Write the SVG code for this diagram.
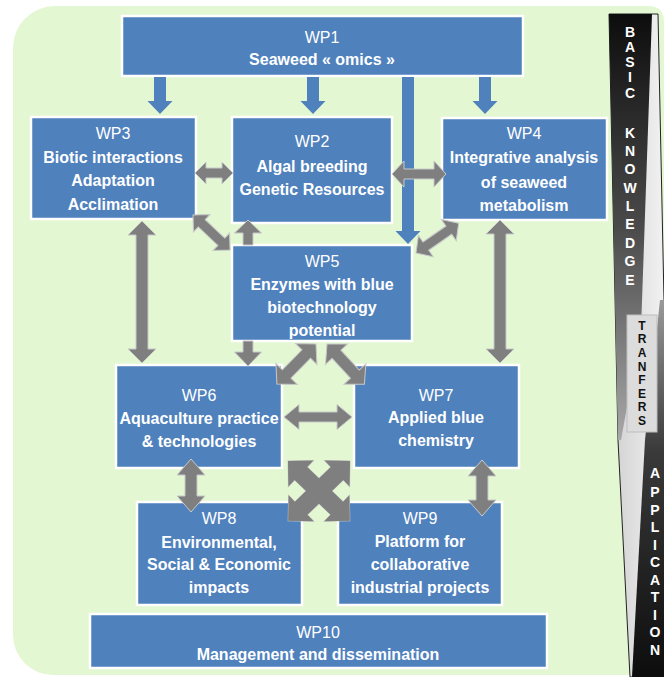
<svg xmlns="http://www.w3.org/2000/svg" width="664" height="677" viewBox="0 0 664 677">
<defs>
<style>
.box{fill:#4f81bd;stroke:#ffffff;stroke-width:2.5}
.t{font-family:"Liberation Sans",Arial,sans-serif;font-size:16px;fill:#ffffff;text-anchor:middle}
.b{font-weight:bold}
.ga{fill:#7f7f7f;stroke:#c9c9c9;stroke-width:1}
.gf{fill:#7f7f7f;stroke:none}
.ba{fill:#4f81bd}
.lw{font-family:"Liberation Sans",Arial,sans-serif;font-size:14px;font-weight:bold;fill:#ffffff;text-anchor:middle}
.lk{font-family:"Liberation Sans",Arial,sans-serif;font-size:12px;font-weight:bold;fill:#111111;text-anchor:middle}
</style>
<linearGradient id="gTop" x1="0" y1="0" x2="0" y2="1">
<stop offset="0" stop-color="#0d0d0d"/>
<stop offset="0.5" stop-color="#4a4a4a"/>
<stop offset="1" stop-color="#a8a8a8"/>
</linearGradient>
<linearGradient id="gBot" x1="0" y1="0" x2="0" y2="1">
<stop offset="0" stop-color="#9a9a9a"/>
<stop offset="0.4" stop-color="#3a3a3a"/>
<stop offset="1" stop-color="#0d0d0d"/>
</linearGradient>
<linearGradient id="gLight" x1="0" y1="0" x2="1" y2="0">
<stop offset="0" stop-color="#cfcfcf"/>
<stop offset="1" stop-color="#f2f2f2"/>
</linearGradient>
<path id="xarm" d="M0 0 L18 -18 L18 -9 L68 -9 L68 -18 L86 0 L68 18 L68 9 L18 9 L18 18 Z"/>
</defs>
<rect width="664" height="677" fill="#ffffff"/>
<path d="M55 6 H648 Q664 6 664 22 V675 H53 A40 40 0 0 1 13 635 V48 A42 42 0 0 1 55 6 Z" fill="#e3f7d3"/>

<g id="sidebar">
<polygon points="609,14 658,14 664,300 664,677 630,677 618,440" fill="url(#gLight)" stroke="#222" stroke-width="1"/>
<polygon points="609,14 652,14 641,330 621,440 618,440" fill="url(#gTop)"/>
<polygon points="660,300 664,300 664,677 632,677 645,440" fill="url(#gBot)"/>
<rect x="627" y="315" width="30" height="117" fill="#dcdcdc" stroke="#bdbdbd" stroke-width="1"/>
<g class="lw">
<text x="630" y="37">B</text><text x="630" y="52">A</text><text x="630" y="67">S</text><text x="630" y="82">I</text><text x="630" y="98">C</text>
<text x="630" y="138">K</text><text x="630" y="156">N</text><text x="630" y="174">O</text><text x="630" y="193">W</text><text x="630" y="211">L</text><text x="630" y="229">E</text><text x="630" y="248">D</text><text x="630" y="266">G</text><text x="630" y="285">E</text>
</g>
<g class="lk">
<text x="642" y="330">T</text><text x="642" y="343">R</text><text x="642" y="357">A</text><text x="642" y="371">N</text><text x="642" y="384">F</text><text x="642" y="398">E</text><text x="642" y="411">R</text><text x="642" y="425">S</text>
</g>
<g class="lw">
<text x="655" y="478">A</text><text x="655" y="497">P</text><text x="655" y="515">P</text><text x="655" y="532">L</text><text x="655" y="550">I</text><text x="655" y="567">C</text><text x="655" y="585">A</text><text x="655" y="602">T</text><text x="655" y="620">I</text><text x="655" y="637">O</text><text x="655" y="655">N</text>
</g>
</g>

<g id="wp1"><rect class="box" x="122" y="16" width="401" height="60"/>
<text class="t" x="322" y="43">WP1</text><text class="t b" x="322" y="65">Seaweed « omics »</text></g>
<g id="wp3"><rect class="box" x="31" y="117" width="165" height="102"/>
<text class="t" x="113" y="139">WP3</text><text class="t b" x="113" y="163">Biotic interactions</text><text class="t b" x="113" y="186">Adaptation</text><text class="t b" x="113" y="210">Acclimation</text></g>
<g id="wp2"><rect class="box" x="232" y="117" width="160" height="106"/>
<text class="t" x="312" y="147">WP2</text><text class="t b" x="312" y="172">Algal breeding</text><text class="t b" x="312" y="195">Genetic Resources</text></g>
<g id="wp4"><rect class="box" x="442" y="118" width="165" height="102"/>
<text class="t" x="524" y="139">WP4</text><text class="t b" x="524" y="163">Integrative analysis</text><text class="t b" x="524" y="188">of seaweed</text><text class="t b" x="524" y="211">metabolism</text></g>
<g id="wp5"><rect class="box" x="232" y="245" width="180" height="96"/>
<text class="t" x="322" y="267">WP5</text><text class="t b" x="322" y="290">Enzymes with blue</text><text class="t b" x="322" y="313">biotechnology</text><text class="t b" x="322" y="336">potential</text></g>
<g id="wp6"><rect class="box" x="116" y="365" width="166" height="103"/>
<text class="t" x="199" y="401">WP6</text><text class="t b" x="199" y="424">Aquaculture practice</text><text class="t b" x="199" y="447">&amp; technologies</text></g>
<g id="wp7"><rect class="box" x="354" y="365" width="165" height="103"/>
<text class="t" x="436" y="401">WP7</text><text class="t b" x="436" y="423">Applied blue</text><text class="t b" x="436" y="446">chemistry</text></g>
<g id="wp8"><rect class="box" x="137" y="502" width="165" height="103"/>
<text class="t" x="219" y="524">WP8</text><text class="t b" x="219" y="548">Environmental,</text><text class="t b" x="219" y="570">Social &amp; Economic</text><text class="t b" x="219" y="593">impacts</text></g>
<g id="wp9"><rect class="box" x="338" y="502" width="164" height="103"/>
<text class="t" x="420" y="524">WP9</text><text class="t b" x="420" y="547">Platform for</text><text class="t b" x="420" y="570">collaborative</text><text class="t b" x="420" y="593">industrial projects</text></g>
<g id="wp10"><rect class="box" x="90" y="614" width="457" height="54"/>
<text class="t" x="318" y="638">WP10</text><text class="t b" x="318" y="660">Management and dissemination</text></g>

<g id="connectors">
<polygon class="ba" points="154,77 166,77 166,101 172.5,101 160,114 147.5,101 154,101"/>
<polygon class="ba" points="307,77 319,77 319,101 325.5,101 313,114 300.5,101 307,101"/>
<polygon class="ba" points="479,77 491,77 491,101 497.5,101 485,114 472.5,101 479,101"/>
<polygon class="ba" points="402,77 414,77 414,231 420.5,231 408,244 395.5,231 402,231"/>

<path class="ga" transform="translate(195 173)" d="M0 0 L11 -11 L11 -5 L27 -5 L27 -11 L38 0 L27 11 L27 5 L11 5 L11 11 Z"/>
<path class="ga" transform="translate(392 174)" d="M0 0 L12 -13 L12 -5 L42 -5 L42 -13 L54 0 L42 13 L42 5 L12 5 L12 13 Z"/>
<path class="ga" transform="translate(193 215) rotate(43.4)" d="M0 0 L12 -12 L12 -5 L39 -5 L39 -12 L51 0 L39 12 L39 5 L12 5 L12 12 Z"/>
<polygon class="ga" points="248,220 261.5,233 253,233 253,245 243,245 243,233 234.5,233"/>
<path class="ga" transform="translate(416 253) rotate(-34.9)" d="M0 0 L12 -13 L12 -5 L40 -5 L40 -13 L52 0 L40 13 L40 5 L12 5 L12 13 Z"/>
<path class="ga" transform="translate(142 221) rotate(90)" d="M0 0 L14 -14 L14 -6 L128 -6 L128 -14 L142 0 L128 14 L128 6 L14 6 L14 14 Z"/>
<path class="ga" transform="translate(500 220) rotate(90)" d="M0 0 L14 -14 L14 -6 L129 -6 L129 -14 L143 0 L129 14 L129 6 L14 6 L14 14 Z"/>
<polygon class="ga" points="243,341 253,341 253,352 261.5,352 248,366 234.5,352 243,352"/>
<path class="ga" transform="translate(316 344) rotate(134.3)" d="M0 0 L14 -15 L14 -6 L42 -6 L42 -15 L56 0 L42 15 L42 6 L14 6 L14 15 Z"/>
<path class="ga" transform="translate(327 344) rotate(47.2)" d="M0 0 L14 -15 L14 -6 L41 -6 L41 -15 L55 0 L41 15 L41 6 L14 6 L14 15 Z"/>
<path class="ga" transform="translate(284 417)" d="M0 0 L15 -12.5 L15 -5 L53 -5 L53 -12.5 L68 0 L53 12.5 L53 5 L15 5 L15 12.5 Z"/>
<path class="ga" transform="translate(191 459) rotate(90)" d="M0 0 L16 -14 L16 -6 L37 -6 L37 -14 L53 0 L37 14 L37 6 L16 6 L16 14 Z"/>
<path class="ga" transform="translate(482 460) rotate(90)" d="M0 0 L16 -14 L16 -6 L40 -6 L40 -14 L56 0 L40 14 L40 6 L16 6 L16 14 Z"/>
<g id="cross">
<use href="#xarm" class="ga" transform="translate(288 461) rotate(44.06)"/>
<use href="#xarm" class="ga" transform="translate(350 461) rotate(135.94)"/>
<use href="#xarm" class="gf" transform="translate(288 461) rotate(44.06)"/>
<use href="#xarm" class="gf" transform="translate(350 461) rotate(135.94)"/>
</g>
</g>
</svg>
